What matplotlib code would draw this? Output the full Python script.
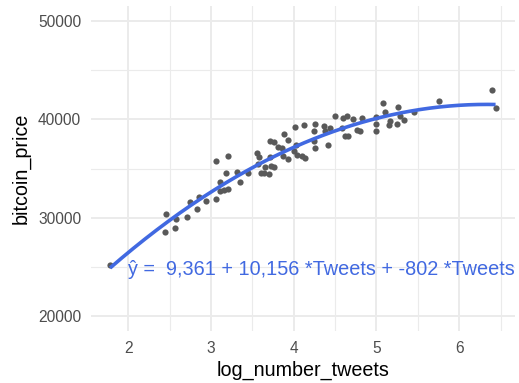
import numpy as np
import matplotlib
matplotlib.use("Agg")
import matplotlib.pyplot as plt

log_number_tweets = [
    1.78, 2.46, 2.44, 2.56, 2.58, 2.71, 2.75, 2.83, 2.85, 2.94,
    3.06, 3.20, 3.06, 3.11, 3.11, 3.16, 3.18, 3.20, 3.31, 3.35,
    3.45, 3.56, 3.58, 3.57, 3.61, 3.64, 3.71, 3.73, 3.70, 3.65,
    3.76, 3.71, 3.76, 3.81, 3.88, 3.93, 3.86, 3.87, 3.93, 4.02,
    4.03, 4.04, 4.00, 4.10, 4.14, 4.12, 4.26, 4.24, 4.24, 4.26,
    4.36, 4.38, 4.44, 4.42, 4.50, 4.58, 4.60, 4.64, 4.72, 4.83,
    4.76, 4.80, 4.62, 4.66, 5.00, 5.00, 4.99, 5.08, 5.10, 5.16,
    5.15, 5.25, 5.26, 5.29, 5.33, 5.45, 5.76, 6.40, 6.44,
]
bitcoin_price = [
    25200, 30360, 28510, 29000, 29860, 30040, 31640, 30920, 32080, 31710,
    35750, 36230, 31900, 33680, 32720, 32840, 34520, 32910, 34600, 33580,
    34570, 36540, 36150, 35440, 34540, 34510, 36180, 35210, 34420, 35110,
    35200, 37760, 37710, 37220, 38500, 37930, 37120, 36300, 36000, 39190,
    37350, 36410, 36740, 36230, 36070, 39390, 39560, 38780, 37760, 37090,
    39290, 38850, 39130, 37420, 40380, 39130, 40150, 40310, 40070, 40150,
    38950, 38780, 38340, 38270, 40210, 39530, 38780, 41670, 40790, 39870,
    39380, 39560, 41250, 40380, 39970, 40760, 41810, 42930, 41120,
]

# quadratic model coefficients (from the annotation)
b0, b1, b2 = 9361, 10156, -802
x_ticks = [2, 3, 4, 5, 6]
y_ticks = [20000, 30000, 40000, 50000]
label_text = "\u0177 =  9,361 + 10,156 *Tweets + -802 *Tweets"

plt.rcParams['font.family'] = ['Liberation Sans', 'DejaVu Sans']

fig = plt.figure(figsize=(5.19, 3.83), dpi=100)
ax = fig.add_axes([0.175, 0.136, 0.817, 0.848])

x = np.array(log_number_tweets)
y = np.array(bitcoin_price)

ax.scatter(x, y, s=20, color="#595959", zorder=3, linewidths=0)
xs = np.linspace(x.min(), x.max(), 200)
ax.plot(xs, b0 + b1 * xs + b2 * xs ** 2, color="#4169E1", lw=2.6, zorder=4,
        solid_capstyle="butt")

ax.text(2.0, 24230, label_text, color="#4169E1", fontsize=14.3,
        ha="left", va="baseline", zorder=5, clip_on=False)

rng = x.max() - x.min()
ax.set_xlim(x.min() - 0.05 * rng, x.max() + 0.05 * rng)
ax.set_ylim(18500, 51500)
ax.set_xticks(x_ticks)
ax.set_yticks(y_ticks)
ax.set_xticks([2.5, 3.5, 4.5, 5.5, 6.5], minor=True)
ax.set_yticks([25000, 35000, 45000], minor=True)

ax.grid(which="major", color="#EBEBEB", lw=1.4)
ax.grid(which="minor", color="#EBEBEB", lw=0.8)
ax.set_axisbelow(True)
for s in ax.spines.values():
    s.set_visible(False)
ax.tick_params(which="both", length=0)
ax.tick_params(axis="both", labelsize=11.2, labelcolor="#4D4D4D", pad=7)

ax.set_xlabel("log_number_tweets", fontsize=14.2, color="black", labelpad=4)
ax.set_ylabel("bitcoin_price", fontsize=14.2, color="black", labelpad=5)

fig.savefig("out.png", dpi=100)
